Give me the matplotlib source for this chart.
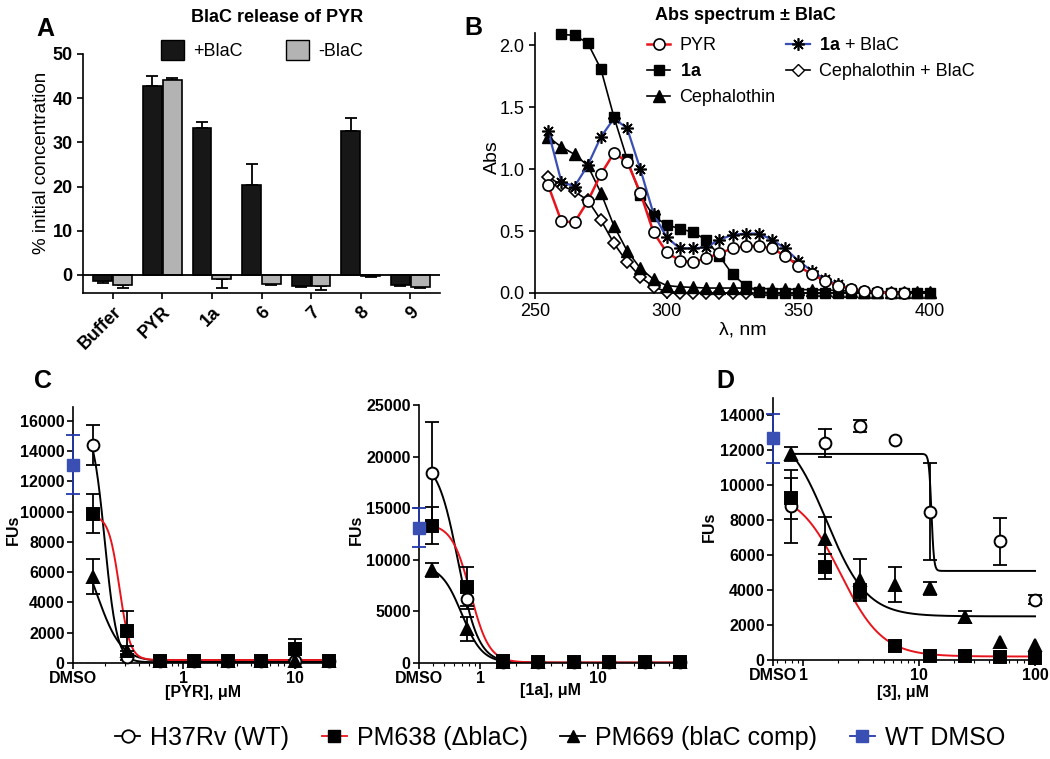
import numpy as np
import matplotlib
matplotlib.use('Agg')
import matplotlib.pyplot as plt
from matplotlib.lines import Line2D
from matplotlib.patches import Patch
from matplotlib.ticker import LogLocator, NullFormatter

plt.rcParams['font.family'] = ['Liberation Sans', 'DejaVu Sans']
plt.rcParams['mathtext.fontset'] = 'custom'
plt.rcParams['mathtext.rm'] = 'Liberation Sans'
plt.rcParams['mathtext.bf'] = 'Liberation Sans:bold'
plt.rcParams['axes.linewidth'] = 1.2

# ---------------- panel A data ----------------
groups = ['Buffer', 'PYR', '1a', '6', '7', '8', '9']
plus_blac = [-1.3, 42.8, 33.2, 20.3, -2.5, 32.6, -2.2]
plus_err = [0.5, 2.2, 1.4, 4.7, 0.3, 2.9, 0.3]
minus_blac = [-2.3, 44.2, -1.0, -2.0, -2.6, -0.3, -2.8]
minus_err = [0.6, 0.4, 1.9, 0.3, 0.8, 0.1, 0.2]

# ---------------- panel B data ----------------
wl_pyr = [255, 260, 265, 270, 275, 280, 285, 290, 295, 300, 305, 310, 315, 320,
          325, 330, 335, 340, 345, 350, 355, 360, 365, 370, 375, 380, 385, 390]
abs_pyr = [0.87, 0.58, 0.57, 0.74, 0.96, 1.13, 1.06, 0.81, 0.49, 0.33, 0.26, 0.25, 0.28, 0.32,
           0.36, 0.38, 0.38, 0.36, 0.30, 0.22, 0.15, 0.10, 0.06, 0.035, 0.016, 0.005, 0.0, 0.0]
wl_1a = [260, 265, 270, 275, 280, 285, 290, 295, 300, 305, 310, 315, 320, 325, 330,
         335, 340, 345, 350, 355, 360, 365, 370, 375, 380, 385, 390, 395, 400]
abs_1a = [2.09, 2.08, 2.02, 1.81, 1.42, 1.08, 0.79, 0.62, 0.55, 0.52, 0.49, 0.43, 0.30, 0.15, 0.06,
          0.01, 0.0, 0.0, 0.0, 0.0, 0.0, 0.0, 0.0, 0.0, 0.0, 0.0, 0.0, 0.0, 0.0]
wl_1a_blac = [255, 260, 265, 270, 275, 280, 285, 290, 295, 300, 305, 310, 315, 320,
              325, 330, 335, 340, 345, 350, 355, 360, 365, 370, 375, 380, 385, 390]
abs_1a_blac = [1.31, 0.90, 0.86, 1.03, 1.26, 1.41, 1.33, 1.00, 0.64, 0.45, 0.36, 0.36, 0.37, 0.43,
               0.47, 0.48, 0.48, 0.43, 0.36, 0.26, 0.18, 0.11, 0.07, 0.035, 0.016, 0.005, 0.0, 0.0]
wl_ceph = [255, 260, 265, 270, 275, 280, 285, 290, 295, 300, 305, 310, 315, 320, 325, 330,
           335, 340, 345, 350, 355, 360, 365, 370, 375, 380, 385, 390, 395, 400]
abs_ceph = [1.26, 1.18, 1.12, 1.03, 0.81, 0.54, 0.34, 0.20, 0.11, 0.06, 0.05, 0.045, 0.04, 0.04,
            0.04, 0.04, 0.035, 0.035, 0.03, 0.03, 0.025, 0.025, 0.02, 0.015, 0.01, 0.01, 0.01,
            0.01, 0.01, 0.01]
wl_ceph_blac = [255, 260, 265, 270, 275, 280, 285, 290, 295, 300, 305, 310, 315, 320, 325, 330]
abs_ceph_blac = [0.94, 0.87, 0.82, 0.75, 0.59, 0.40, 0.25, 0.13, 0.05, 0.01, 0.0, 0.0, 0.0,
                 0.0, 0.0, 0.0]

# ---------------- panel C / D data ----------------
conc_pyr = [0.156, 0.3125, 0.625, 1.25, 2.5, 5, 10, 20]
pyr_wt = [14400, 400, 100, 100, 100, 100, 100, 100]
pyr_wt_err = [1300, 200, 0, 0, 0, 0, 0, 0]
pyr_ko = [9850, 2100, 150, 150, 150, 150, 900, 150]
pyr_ko_err = [1300, 1300, 0, 0, 0, 0, 700, 0]
pyr_comp = [5700, 800, 100, 100, 100, 100, 100, 100]
pyr_comp_err = [1150, 300, 0, 0, 0, 0, 0, 0]
pyr_dmso, pyr_dmso_err = 13100, 1950

conc_1a = [0.39, 0.78, 1.56, 3.125, 6.25, 12.5, 25, 50]
c1a_wt = [18400, 6200, 100, 50, 50, 50, 50, 50]
c1a_wt_err = [5000, 1000, 0, 0, 0, 0, 0, 0]
c1a_ko = [13300, 7400, 150, 50, 50, 50, 50, 50]
c1a_ko_err = [1800, 1900, 0, 0, 0, 0, 0, 0]
c1a_comp = [9000, 3300, 100, 50, 50, 50, 50, 50]
c1a_comp_err = [700, 1200, 0, 0, 0, 0, 0, 0]
c1a_dmso, c1a_dmso_err = 13100, 1900

conc_3 = [0.78, 1.56, 3.125, 6.25, 12.5, 25, 50, 100]
c3_wt = [8800, 12400, 13400, 12600, 8500, np.nan, 6800, 3450]
c3_wt_err = [2100, 800, 350, 0, 2800, 0, 1350, 250]
c3_ko = [9250, 5350, 3900, 800, 250, 250, 150, 100]
c3_ko_err = [1150, 700, 450, 0, 0, 0, 0, 0]
c3_comp = [11800, 6900, 4600, 4300, 4100, 2450, 1050, 850]
c3_comp_err = [400, 1300, 1200, 1000, 350, 350, 0, 0]
c3_dmso, c3_dmso_err = 12700, 1400

# fitted curves: top, bottom, IC50, hill
fit_pyr = {'wt': (16000, 50, 0.2, 8), 'ko': (9750, 200, 0.27, 9), 'comp': (9000, 100, 0.17, 4)}
fit_1a = {'wt': (19800, 20, 0.65, 5), 'ko': (13500, 50, 0.83, 5.5), 'comp': (9500, 20, 0.7, 5)}
fit_3 = {'wt': (11800, 5100, 12.8, 40), 'ko': (9700, 200, 2.1, 2.4), 'comp': (13400, 2500, 1.6, 2.5)}

RED = '#e8141c'
BLUE = '#3a4fb4'
BLUE_DARK = '#2338a8'

W, H = 1050, 759
fig = plt.figure(figsize=(10.5, 7.59), dpi=100)


def add_ax(l, t, r, b):
    ax = fig.add_axes([l / W, 1 - b / H, (r - l) / W, (b - t) / H])
    ax.spines['top'].set_visible(False)
    ax.spines['right'].set_visible(False)
    return ax


def logistic(x, top, bottom, ic50, hill):
    return bottom + (top - bottom) / (1 + (x / ic50) ** hill)


# ---------------- A ----------------
ax = add_ax(83, 54, 440, 293)
x = np.arange(len(groups))
bw = 0.38
ax.bar(x - 0.2, plus_blac, bw, color='#171717', edgecolor='black', linewidth=1.2, zorder=2)
ax.bar(x + 0.2, minus_blac, bw, color='#b3b3b3', edgecolor='black', linewidth=1.2, zorder=2)
for xs, vals, errs in [(x - 0.2, plus_blac, plus_err), (x + 0.2, minus_blac, minus_err)]:
    lo = [e if v < 0 else 0 for v, e in zip(vals, errs)]
    hi = [e if v >= 0 else 0 for v, e in zip(vals, errs)]
    ax.errorbar(xs, vals, yerr=[lo, hi], fmt='none', ecolor='black', elinewidth=1.3,
                capsize=4, capthick=1.3, zorder=1)
ax.axhline(0, color='black', lw=1.3, zorder=3)
ax.set_xlim(-0.6, 6.6)
ax.set_ylim(-4.1, 50)
ax.set_yticks([0, 10, 20, 30, 40, 50])
ax.set_xticks(x)
ax.set_xticklabels(groups, rotation=45, ha='right', rotation_mode='anchor',
                   fontsize=13, fontweight='bold')
ax.tick_params(axis='y', labelsize=13, length=4, width=1.2)
ax.tick_params(axis='x', length=4, width=1.2)
for lab in ax.get_yticklabels():
    lab.set_fontweight('bold')
fig.text(42 / W, 1 - 163 / H, '% initial concentration', rotation=90, ha='center',
         va='center', fontsize=13.5)
fig.text(277 / W, 1 - 18 / H, 'BlaC release of PYR', ha='center', va='center',
         fontsize=13, fontweight='bold')
fig.legend(handles=[Patch(facecolor='#171717', edgecolor='black', label='+BlaC'),
                    Patch(facecolor='#b3b3b3', edgecolor='black', label='-BlaC')],
           loc='center', bbox_to_anchor=(262 / W, 1 - 50 / H), ncol=2, frameon=False,
           fontsize=13, handlelength=1.3, handleheight=1.3, columnspacing=2.4,
           handletextpad=0.5)

# ---------------- B ----------------
ax = add_ax(535, 33, 930, 293)
ax.plot(wl_ceph_blac, abs_ceph_blac, color='black', lw=1.2, marker='D', ms=6,
        mfc='white', mec='black', mew=1.2, clip_on=False, zorder=3)
ax.plot(wl_ceph, abs_ceph, color='black', lw=1.2, marker='^', ms=8,
        mfc='black', mec='black', clip_on=False, zorder=3)
ax.plot(wl_1a, abs_1a, color='black', lw=1.2, marker='s', ms=7.5,
        mfc='black', mec='black', clip_on=False, zorder=4)
ax.plot(wl_1a_blac, abs_1a_blac, color=BLUE, lw=1.6, marker=(8, 2, 0), ms=9,
        mec='black', mew=1.2, clip_on=False, zorder=5)
ax.plot(wl_pyr, abs_pyr, color=RED, lw=1.8, marker='o', ms=8,
        mfc='white', mec='black', mew=1.2, clip_on=False, zorder=6)
ax.set_xlim(250, 400)
ax.set_ylim(0, 2.1)
ax.set_xticks([250, 300, 350, 400])
ax.set_yticks([0, 0.5, 1.0, 1.5, 2.0])
ax.set_yticklabels(['0.0', '0.5', '1.0', '1.5', '2.0'])
ax.tick_params(labelsize=13, length=4, width=1.2)
fig.text(492 / W, 1 - 157 / H, 'Abs', rotation=90, ha='center', va='center', fontsize=14)
fig.text(743 / W, 1 - 330 / H, 'λ, nm', ha='center', va='center', fontsize=14)
fig.text(745 / W, 1 - 15 / H, 'Abs spectrum ± BlaC', ha='center', va='center',
         fontsize=13, fontweight='bold')
b_handles = [
    Line2D([], [], color=RED, lw=1.8, marker='o', ms=8, mfc='white', mec='black', mew=1.2,
           label='PYR'),
    Line2D([], [], color='black', lw=1.2, marker='s', ms=7.5, mfc='black', label=r'$\mathbf{1a}$'),
    Line2D([], [], color='black', lw=1.2, marker='^', ms=8, mfc='black', label='Cephalothin'),
    Line2D([], [], color=BLUE, lw=1.6, marker=(8, 2, 0), ms=9, mec='black', mew=1.2,
           label=r'$\mathbf{1a}$ + BlaC'),
    Line2D([], [], color='black', lw=1.2, marker='D', ms=6, mfc='white', mec='black',
           label='Cephalothin + BlaC'),
]
fig.legend(handles=b_handles, loc='upper left', bbox_to_anchor=(647 / W, 1 - 37 / H), ncol=2,
           frameon=False, fontsize=13, handlelength=1.3, handletextpad=0.5,
           columnspacing=0.6, labelspacing=0.5, borderaxespad=0, borderpad=0)


# ---------------- C / D ----------------
def dose_panel(box, conc, wt, wt_e, ko, ko_e, cp, cp_e, dmso, dmso_e, fits,
               xlim, ylim, yticks, xt, xtl, xlabel, xlabel_pos, ylabel_pos, baseline=False):
    ax = add_ax(*box)
    ax.set_xscale('log')
    conc = np.array(conc, dtype=float)
    xs = np.geomspace(conc[0], conc[-1], 400)
    for key, col in [('comp', 'black'), ('wt', 'black'), ('ko', RED)]:
        ax.plot(xs, logistic(xs, *fits[key]), color=col, lw=1.4, zorder=2)
    if baseline:
        ax.axhline(0, color='black', lw=0.9, ls=(0, (3, 2)), zorder=1)
    series = [(wt, wt_e, 'o', 'white'), (ko, ko_e, 's', 'black'), (cp, cp_e, '^', 'black')]
    for vals, errs, mk, fc in series:
        vals = np.array(vals, dtype=float)
        errs = np.array(errs, dtype=float)
        m = errs > 0
        ax.errorbar(conc[m], vals[m], yerr=errs[m], fmt='none', ecolor='black',
                    elinewidth=1.3, capsize=5, capthick=1.3, zorder=3, clip_on=False)
        ax.plot(conc, vals, ls='none', marker=mk, ms=8.5 if mk != 's' else 8,
                mfc=fc, mec='black', mew=1.4, zorder=4, clip_on=False)
    ax.errorbar([xlim[0]], [dmso], yerr=[dmso_e], fmt='s', ms=8, mfc=BLUE, mec=BLUE,
                ecolor=BLUE_DARK, elinewidth=1.3, capsize=5, capthick=1.3, zorder=5,
                clip_on=False)
    ax.set_xlim(*xlim)
    ax.set_ylim(*ylim)
    ax.set_yticks(yticks)
    ax.set_xticks([xlim[0]] + xt)
    ax.set_xticklabels(['DMSO'] + xtl)
    ax.xaxis.set_minor_locator(LogLocator(subs=np.arange(2, 10)))
    ax.xaxis.set_minor_formatter(NullFormatter())
    ax.tick_params(labelsize=11.5, length=4, width=1.2, pad=2)
    ax.tick_params(which='minor', length=2, width=0.8)
    for lab in ax.get_xticklabels() + ax.get_yticklabels():
        lab.set_fontweight('bold')
    fig.text(xlabel_pos[0] / W, 1 - xlabel_pos[1] / H, xlabel, ha='center', va='center',
             fontsize=11.5, fontweight='bold')
    fig.text(ylabel_pos[0] / W, 1 - ylabel_pos[1] / H, 'FUs', rotation=90, ha='center',
             va='center', fontsize=11.5, fontweight='bold')
    return ax


dose_panel((73, 407, 333, 663), conc_pyr, pyr_wt, pyr_wt_err, pyr_ko, pyr_ko_err,
           pyr_comp, pyr_comp_err, pyr_dmso, pyr_dmso_err, fit_pyr,
           (0.104, 21.8), (0, 16900), list(range(0, 16001, 2000)), [1, 10], ['1', '10'],
           '[PYR], μM', (203, 693), (13, 530), baseline=True)
dose_panel((419, 405, 683, 663), conc_1a, c1a_wt, c1a_wt_err, c1a_ko, c1a_ko_err,
           c1a_comp, c1a_comp_err, c1a_dmso, c1a_dmso_err, fit_1a,
           (0.304, 52.5), (0, 25000), list(range(0, 25001, 5000)), [1, 10], ['1', '10'],
           '[1a], μM', (550, 691), (356, 530))
dose_panel((773, 398, 1037, 660), conc_3, c3_wt, c3_wt_err, c3_ko, c3_ko_err,
           c3_comp, c3_comp_err, c3_dmso, c3_dmso_err, fit_3,
           (0.551, 104), (0, 15000), list(range(0, 14001, 2000)), [1, 10, 100],
           ['1', '10', '100'], '[3], μM', (903, 693), (709, 527))

# panel letters
for letter, (px, py) in zip('ABCD', [(45, 29), (473, 28), (43, 381), (725, 381)]):
    fig.text(px / W, 1 - py / H, letter, ha='center', va='center', fontsize=18,
             fontweight='bold')

# bottom legend
bottom_handles = [
    Line2D([], [], color='black', lw=1.3, marker='o', ms=9, mfc='white', mec='black',
           mew=1.3, label='H37Rv (WT)'),
    Line2D([], [], color=RED, lw=1.3, marker='s', ms=9, mfc='black', mec='black',
           label='PM638 (ΔblaC)'),
    Line2D([], [], color='black', lw=1.3, marker='^', ms=9, mfc='black', mec='black',
           label='PM669 (blaC comp)'),
    Line2D([], [], color=BLUE_DARK, lw=1.3, marker='s', ms=9, mfc=BLUE, mec=BLUE,
           label='WT DMSO'),
]
fig.legend(handles=bottom_handles, loc='center', bbox_to_anchor=(560 / W, 1 - 738 / H),
           ncol=4, frameon=False, fontsize=18, handlelength=1.0, handletextpad=0.4,
           columnspacing=1.3)

fig.savefig('out.png', dpi=100)
